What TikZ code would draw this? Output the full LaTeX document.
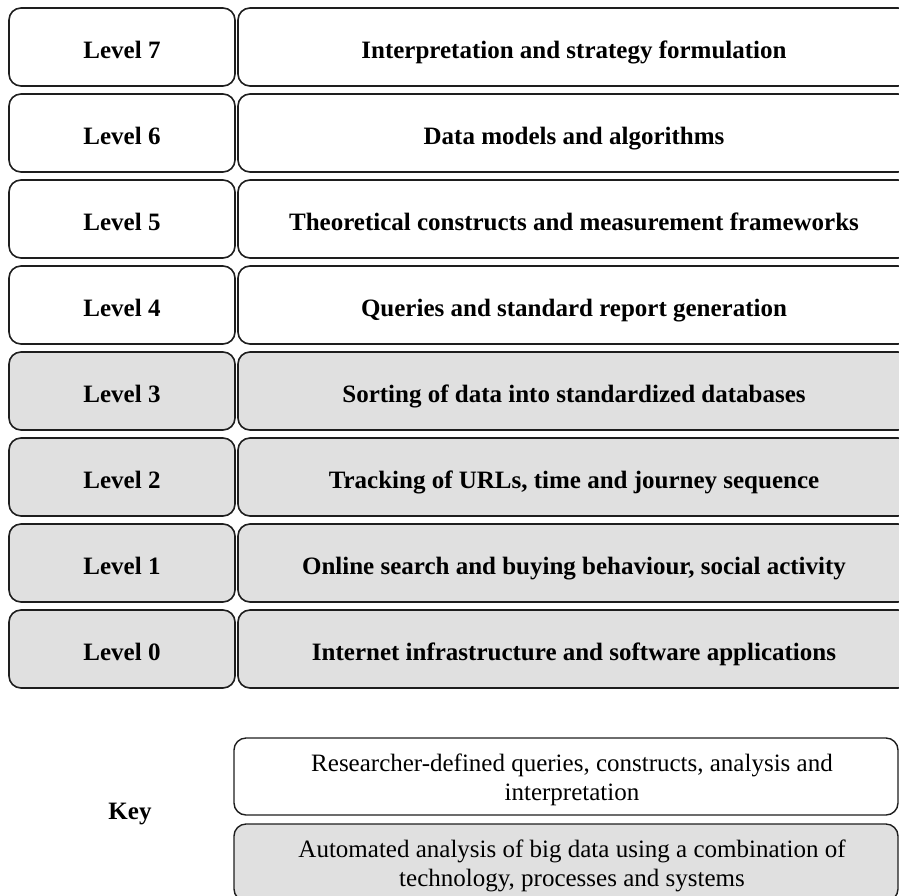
\documentclass[tikz,border=0pt]{standalone}
\usepackage{fontspec}
\setmainfont{Liberation Serif}
\definecolor{boxgray}{HTML}{E0E0E0}
\definecolor{edge}{HTML}{1E1E1E}
\newcommand{\ks}{\hspace*{12pt}}
\tikzset{
  lvl/.style={draw=edge, line width=1.6pt, rounded corners=12pt, minimum height=78pt, inner sep=0pt, text height=24pt, text depth=2pt, font=\fontsize{25}{30}\selectfont\bfseries},
  leftbox/.style={lvl, minimum width=226pt},
  rightbox/.style={lvl, minimum width=672pt},
  auto/.style={fill=boxgray},
  man/.style={fill=white},
  keybox/.style={draw=edge, line width=1.4pt, rounded corners=12pt, minimum width=664pt, minimum height=77pt, inner sep=0pt, text height=54pt, align=center, font=\fontsize{25}{29}\selectfont},
}
\begin{document}
\begin{tikzpicture}[x=1pt,y=-1pt]
\useasboundingbox (0,0) rectangle (899,895);
\clip (0,0) rectangle (899,895);
\node[leftbox,man] (l7) at (122,47) {Level 7};
\node[rightbox,man] (r7) at (574,47) {Interpretation and strategy formulation};
\node[leftbox,man] (l6) at (122,133) {Level 6};
\node[rightbox,man] (r6) at (574,133) {Data models and algorithms};
\node[leftbox,man] (l5) at (122,219) {Level 5};
\node[rightbox,man] (r5) at (574,219) {Theoretical constructs and measurement frameworks};
\node[leftbox,man] (l4) at (122,305) {Level 4};
\node[rightbox,man] (r4) at (574,305) {Queries and standard report generation};
\node[leftbox,auto] (l3) at (122,391) {Level 3};
\node[rightbox,auto] (r3) at (574,391) {Sorting of data into standardized databases};
\node[leftbox,auto] (l2) at (122,477) {Level 2};
\node[rightbox,auto] (r2) at (574,477) {Tracking of URLs, time and journey sequence};
\node[leftbox,auto] (l1) at (122,563) {Level 1};
\node[rightbox,auto] (r1) at (574,563) {Online search and buying behaviour, social activity};
\node[leftbox,auto] (l0) at (122,649) {Level 0};
\node[rightbox,auto] (r0) at (574,649) {Internet infrastructure and software applications};
\node[font=\fontsize{25}{30}\selectfont\bfseries] (key) at (130,814) {Key};
\node[keybox,man] (k1) at (566,776.5) {\ks Researcher-defined queries, constructs, analysis and\\\ks interpretation};
\node[keybox,auto] (k2) at (566,862.5) {\ks Automated analysis of big data using a combination of\\\ks technology, processes and systems};
\end{tikzpicture}
\end{document}
